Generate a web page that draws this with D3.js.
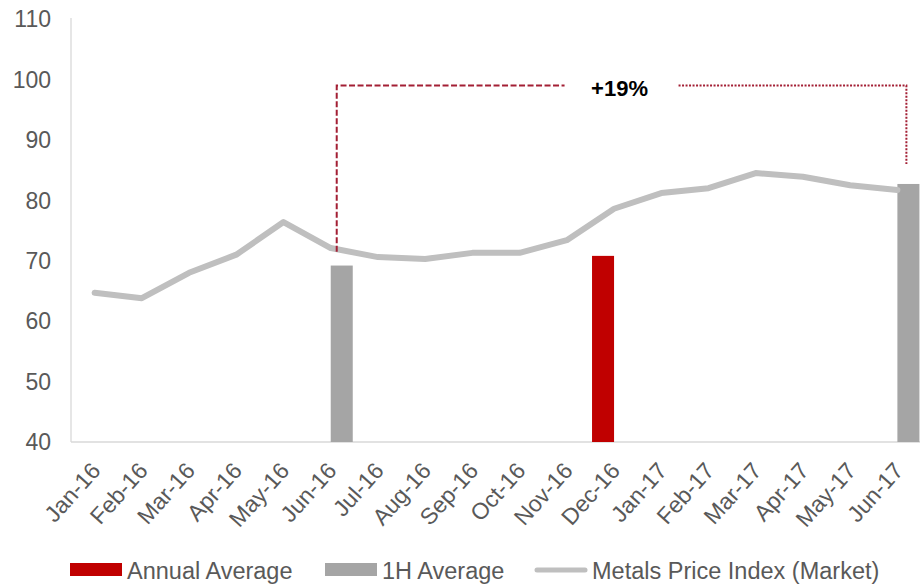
<!DOCTYPE html>
<html>
<head>
<meta charset="utf-8">
<script src="https://cdn.jsdelivr.net/npm/d3@7"></script>
<style>
  html, body { margin: 0; padding: 0; background: #fff; }
  svg { display: block; font-family: "Liberation Sans", Arial, sans-serif; }
</style>
</head>
<body>
<svg id="chart" width="920" height="585"></svg>
<script>
// Months on the category axis
const months = ["Jan-16","Feb-16","Mar-16","Apr-16","May-16","Jun-16","Jul-16","Aug-16","Sep-16",
                "Oct-16","Nov-16","Dec-16","Jan-17","Feb-17","Mar-17","Apr-17","May-17","Jun-17"];

// Metals Price Index (Market), monthly
const marketIndex = [64.7, 63.8, 68.0, 71.0, 76.4, 72.1, 70.6, 70.3, 71.3,
                     71.3, 73.4, 78.6, 81.2, 82.0, 84.5, 83.9, 82.5, 81.7];

// Averages shown as columns (null = no column for that month)
const annualAverage = [null,null,null,null,null,null,null,null,null,null,null,70.8,null,null,null,null,null,null];
const halfYearAverage = [null,null,null,null,null,69.2,null,null,null,null,null,null,null,null,null,null,null,82.7];

// Y axis ticks
const yTicks = [40, 50, 60, 70, 80, 90, 100, 110];

// Change annotation between the two half-year averages
const changeLabel = "+19%";
const bracketTop = 99;
const bracketLeftBottom = 71.5;
const bracketRightBottom = 86;

const svg = d3.select("#chart");
const margin = { left: 71, right: -1, top: 19, bottom: 143 };
const W = 920, H = 585;

const x = d3.scaleBand().domain(months).range([margin.left, W - margin.right]).padding(0);
const y = d3.scaleLinear().domain([40, 110]).range([H - margin.bottom, margin.top]);

// Two series side by side inside each month
const seriesKeys = ["annual", "half"];
const xSub = d3.scaleBand().domain(seriesKeys).range([0, x.bandwidth()]).paddingInner(0).paddingOuter(0.072);

const colors = { annual: "#C00000", half: "#A5A5A5", line: "#BFBFBF", axis: "#D9D9D9", text: "#595959", note: "#A31F34" };

// Axes lines
svg.append("line")
  .attr("x1", margin.left).attr("x2", margin.left)
  .attr("y1", y(110) - 1).attr("y2", y(40))
  .attr("stroke", colors.axis).attr("stroke-width", 1.3);
svg.append("line")
  .attr("x1", margin.left).attr("x2", W)
  .attr("y1", y(40)).attr("y2", y(40))
  .attr("stroke", colors.axis).attr("stroke-width", 1.3);

// Y tick labels
svg.append("g").selectAll("text").data(yTicks).join("text")
  .attr("x", 51).attr("y", d => y(d))
  .attr("dy", "0.36em")
  .attr("text-anchor", "end")
  .attr("font-size", 23)
  .attr("fill", colors.text)
  .text(d => d);

// X tick labels, rotated
svg.append("g").selectAll("text").data(months).join("text")
  .attr("transform", d => `translate(${x(d) + x.bandwidth() / 2 + 1},${y(40) + 24}) rotate(-48)`)
  .attr("text-anchor", "end")
  .attr("dy", "0.36em")
  .attr("font-size", 23)
  .attr("fill", colors.text)
  .text(d => d);

// Columns
const bars = [];
months.forEach((m, i) => {
  if (annualAverage[i] != null) bars.push({ m, key: "annual", v: annualAverage[i] });
  if (halfYearAverage[i] != null) bars.push({ m, key: "half", v: halfYearAverage[i] });
});
svg.append("g").selectAll("rect").data(bars).join("rect")
  .attr("x", d => x(d.m) + xSub(d.key))
  .attr("width", xSub.bandwidth())
  .attr("y", d => y(d.v))
  .attr("height", d => y(40) - y(d.v))
  .attr("fill", d => colors[d.key]);

// Market index line
const line = d3.line()
  .x((d, i) => x(months[i]) + x.bandwidth() / 2)
  .y(d => y(d));
svg.append("path")
  .datum(marketIndex)
  .attr("d", line)
  .attr("fill", "none")
  .attr("stroke", colors.line)
  .attr("stroke-width", 6)
  .attr("stroke-linejoin", "round")
  .attr("stroke-linecap", "round");

// Change bracket
const leftX = x("Jun-16") + x.bandwidth() / 2 + 6;
const rightX = x("Jun-17") + x.bandwidth() / 2 + 9;
const midX = (leftX + rightX) / 2;
const gap = 57;
const note = svg.append("g").attr("fill", "none").attr("stroke", colors.note).attr("stroke-width", 2);
note.append("path")
  .attr("d", `M${leftX},${y(bracketLeftBottom)} V${y(bracketTop)} H${midX - gap}`)
  .attr("stroke-dasharray", "6,2.5");
note.append("path")
  .attr("d", `M${midX + gap},${y(bracketTop)} H${rightX} V${y(bracketRightBottom)}`)
  .attr("stroke-dasharray", "2,1.5");
svg.append("text")
  .attr("x", midX - 2).attr("y", y(bracketTop) + 11)
  .attr("text-anchor", "middle")
  .attr("font-size", 22)
  .attr("font-weight", "bold")
  .attr("fill", "#000")
  .text(changeLabel);

// Legend
const legendY = 569;
const legend = svg.append("g").attr("font-size", 23.5).attr("fill", colors.text);
const items = [
  { label: "Annual Average", type: "rect", color: colors.annual, x: 70 },
  { label: "1H Average", type: "rect", color: colors.half, x: 325 },
  { label: "Metals Price Index (Market)", type: "line", color: colors.line, x: 535 }
];
items.forEach(it => {
  if (it.type === "rect") {
    legend.append("rect").attr("x", it.x).attr("y", legendY - 6).attr("width", 52).attr("height", 13).attr("fill", it.color);
  } else {
    legend.append("line").attr("x1", it.x + 2).attr("x2", it.x + 50).attr("y1", legendY + 1).attr("y2", legendY + 1)
      .attr("stroke", it.color).attr("stroke-width", 5).attr("stroke-linecap", "round");
  }
  legend.append("text").attr("x", it.x + 57).attr("y", legendY + 10).text(it.label);
});
</script>
</body>
</html>
